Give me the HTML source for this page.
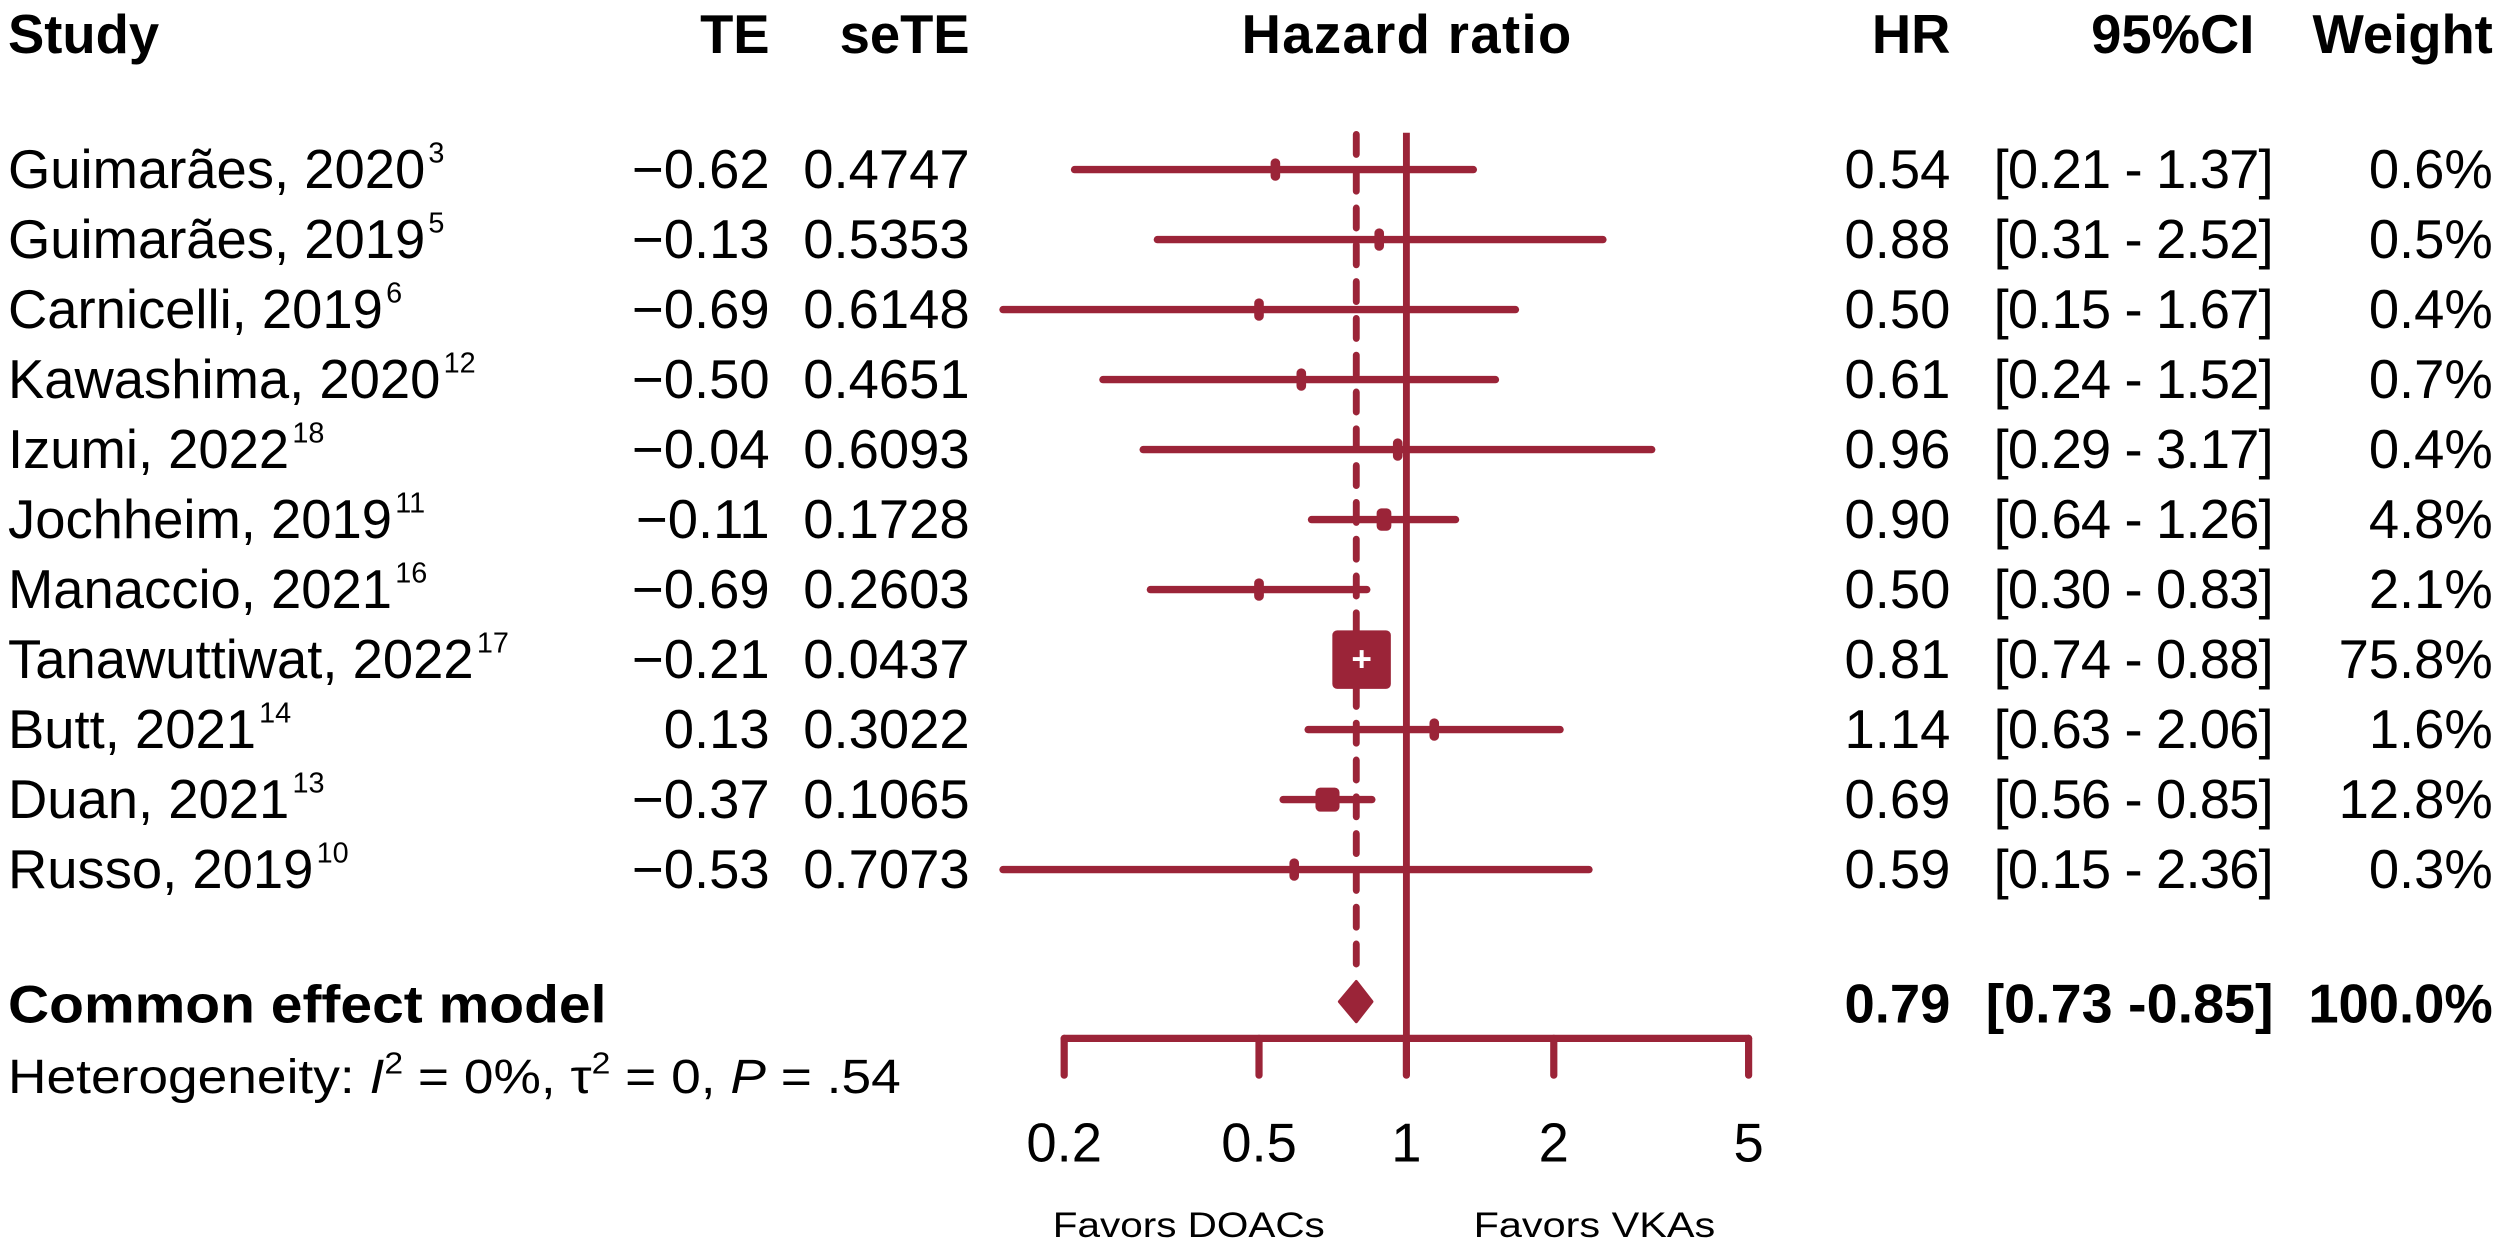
<!DOCTYPE html>
<html><head><meta charset="utf-8"><style>
html,body{margin:0;padding:0;background:#fff;}
svg{display:block;font-family:"Liberation Sans",Arial,sans-serif;}
</style></head><body>
<svg id="fp" width="2508" height="1252" viewBox="0 0 1567.5 782.5" xmlns="http://www.w3.org/2000/svg">
<rect width="1567.5" height="782.5" fill="#fff"/>
<g font-weight="bold" font-size="34" fill="#000">
<text x="5" y="33">Study</text>
<text x="481" y="33" text-anchor="end">TE</text>
<text x="606" y="33" text-anchor="end">seTE</text>
<text x="879" y="33" text-anchor="middle" textLength="206">Hazard ratio</text>
<text x="1219" y="33" text-anchor="end">HR</text>
<text x="1409" y="33" text-anchor="end">95%CI</text>
<text x="1558" y="33" text-anchor="end">Weight</text>
</g>
<g id="rows"></g>
<g id="plot"></g>
<text x="5" y="639" font-size="33" font-weight="bold" textLength="374" lengthAdjust="spacingAndGlyphs">Common effect model</text>
<text x="1219" y="639" font-size="34" font-weight="bold" text-anchor="end">0.79</text>
<text x="1241" y="639" font-size="34" font-weight="bold" textLength="180" lengthAdjust="spacingAndGlyphs">[0.73 -0.85]</text>
<text x="1558" y="639" font-size="34" font-weight="bold" text-anchor="end">100.0%</text>
<text x="5" y="683" font-size="30" textLength="558" lengthAdjust="spacingAndGlyphs">Heterogeneity: <tspan font-style="italic">I</tspan><tspan dy="-12" font-size="19">2</tspan><tspan dy="12"> = 0%, τ</tspan><tspan dy="-12" font-size="19">2</tspan><tspan dy="12"> = 0, </tspan><tspan font-style="italic">P</tspan> = .54</text>
<text x="658" y="773" font-size="22" textLength="170" lengthAdjust="spacingAndGlyphs">Favors DOACs</text>
<text x="921" y="773" font-size="22" textLength="151" lengthAdjust="spacingAndGlyphs">Favors VKAs</text>
</svg>
<script>
const studies = ["Guimarães, 2020","Guimarães, 2019","Carnicelli, 2019","Kawashima, 2020","Izumi, 2022","Jochheim, 2019","Manaccio, 2021","Tanawuttiwat, 2022","Butt, 2021","Duan, 2021","Russo, 2019"];
const refs = ["3","5","6","12","18","11","16","17","14","13","10"];
const te = ["\u22120.62","\u22120.13","\u22120.69","\u22120.50","\u22120.04","\u22120.11","\u22120.69","\u22120.21","0.13","\u22120.37","\u22120.53"];
const sete = ["0.4747","0.5353","0.6148","0.4651","0.6093","0.1728","0.2603","0.0437","0.3022","0.1065","0.7073"];
const hr = [0.54,0.88,0.50,0.61,0.96,0.90,0.50,0.81,1.14,0.69,0.59];
const lower = [0.21,0.31,0.15,0.24,0.29,0.64,0.30,0.74,0.63,0.56,0.15];
const upper = [1.37,2.52,1.67,1.52,3.17,1.26,0.83,0.88,2.06,0.85,2.36];
const weight = [0.6,0.5,0.4,0.7,0.4,4.8,2.1,75.8,1.6,12.8,0.3];
const pooled = [0.79,0.73,0.85];
const ticks = [0.2,0.5,1,2,5];
const tickLabels = ["0.2","0.5","1","2","5"];

const NS="http://www.w3.org/2000/svg";
const COL="#9B2438";
const x = v => 879 + 306*Math.log10(v);
const rowY = i => 106 + i*43.75;
function mk(tag, attrs, parent){const e=document.createElementNS(NS,tag);for(const k in attrs)e.setAttribute(k,attrs[k]);parent.appendChild(e);return e;}
const rows=document.getElementById('rows'), plot=document.getElementById('plot');
const f2=v=>v.toFixed(2);
studies.forEach((s,i)=>{
  const b=117.5+i*43.75;
  const t=mk('text',{x:5,y:b,'font-size':34},rows);
  
  
  t.textContent=s;
  const sp=mk('tspan',{dy:-16,'font-size':18,dx:2},t); sp.textContent=refs[i];
  const a=mk('text',{x:481,y:b,'font-size':34,'text-anchor':'end'},rows);
  
  
  a.textContent=te[i];
  const c=mk('text',{x:606,y:b,'font-size':34,'text-anchor':'end'},rows);
  
  
  c.textContent=sete[i];
  const h=mk('text',{x:1219,y:b,'font-size':34,'text-anchor':'end'},rows);
  
  
  h.textContent=f2(hr[i]);
  const ci=mk('text',{x:1246,y:b,'font-size':34,textLength:175,lengthAdjust:'spacing'},rows);
  
  
  ci.textContent='['+f2(lower[i])+' - '+f2(upper[i])+']';
  const w=mk('text',{x:1558,y:b,'font-size':34,'text-anchor':'end'},rows);
  
  
  w.textContent=weight[i].toFixed(1)+'%';
});
const nl=mk('line',{x1:x(1),x2:x(1),y1:83,y2:649,stroke:COL,'stroke-width':4.3},plot);


const pl=mk('line',{x1:x(pooled[0]),x2:x(pooled[0]),y1:84,y2:612,stroke:COL,'stroke-width':4.3,'stroke-dasharray':'12.5 10.5','stroke-linecap':'round'},plot);


studies.forEach((s,i)=>{
  const y=rowY(i);
  const l=mk('line',{x1:x(lower[i]),x2:x(upper[i]),y1:y,y2:y,stroke:COL,'stroke-width':4.6,'stroke-linecap':'round'},plot);
  
  
  const sz=4.2*Math.sqrt(weight[i]);
  const w=Math.max(sz,6), h=Math.max(sz,14);
  const r=mk('rect',{x:x(hr[i])-w/2,y:y-h/2,width:w,height:h,rx:Math.min(3,w/2),fill:COL},plot);
  
  
  if(sz>25){
    const p=mk('text',{x:x(hr[i]),y:y+7,'font-size':22,'font-weight':'bold',fill:'#fff','text-anchor':'middle'},plot);
    
    
    p.textContent='+';
  }
});
const dy=626;
const d=mk('polygon',{points:`${x(pooled[1])},${dy} ${x(pooled[0])},${dy-12.5} ${x(pooled[2])},${dy} ${x(pooled[0])},${dy+12.5}`,fill:COL,stroke:COL,'stroke-width':2,'stroke-linejoin':'round'},plot);


const ax=mk('line',{x1:x(ticks[0]),x2:x(ticks[ticks.length-1]),y1:649,y2:649,stroke:COL,'stroke-width':4.5,'stroke-linecap':'round'},plot);


ticks.forEach((t,i)=>{
  const tk=mk('line',{x1:x(t),x2:x(t),y1:649,y2:672,stroke:COL,'stroke-width':4.5,'stroke-linecap':'round'},plot);
  
  
  const lb=mk('text',{x:x(t),y:726,'font-size':34,'text-anchor':'middle'},plot);
  
  
  lb.textContent=tickLabels[i];
});
</script>
</body></html>
